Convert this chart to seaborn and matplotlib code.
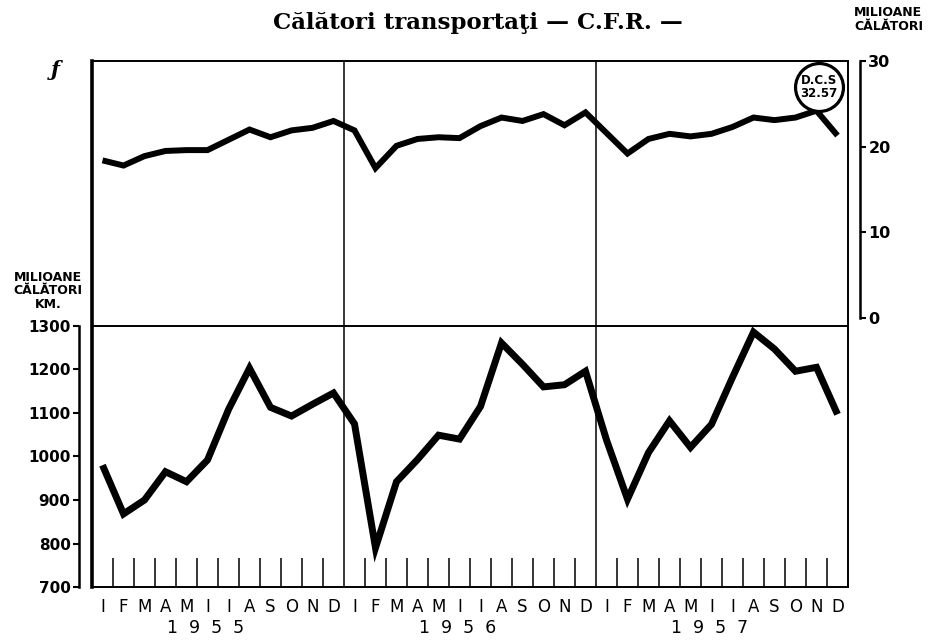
import numpy as np
import pandas as pd
import matplotlib
matplotlib.use('Agg')
import matplotlib.pyplot as plt
import seaborn as sns

# ---------------- data ----------------
years = ['1955', '1956', '1957']
month_letters = ['I', 'F', 'M', 'A', 'M', 'I', 'I', 'A', 'S', 'O', 'N', 'D']

# milioane călători (top panel, right axis)
calatori_1955 = [18.4, 17.8, 18.9, 19.5, 19.6, 19.6, 20.8, 22.0, 21.1, 21.9, 22.2, 23.0]
calatori_1956 = [21.9, 17.5, 20.1, 20.9, 21.1, 21.0, 22.4, 23.4, 23.0, 23.8, 22.5, 24.0]
calatori_1957 = [21.6, 19.2, 20.9, 21.5, 21.2, 21.5, 22.3, 23.4, 23.1, 23.4, 24.2, 21.3]

# milioane călători km (bottom panel, left axis)
ckm_1955 = [980, 868, 900, 965, 942, 992, 1108, 1203, 1113, 1093, 1120, 1146]
ckm_1956 = [1075, 790, 942, 993, 1049, 1040, 1115, 1261, 1212, 1160, 1165, 1196]
ckm_1957 = [1038, 902, 1009, 1082, 1021, 1074, 1182, 1286, 1247, 1196, 1205, 1097]

right_ticks = [0, 10, 20, 30]
left_ticks = [700, 800, 900, 1000, 1100, 1200, 1300]

title = 'Călători transportaţi — C.F.R. —'
right_label = 'MILIOANE\nCĂLĂTORI'
left_label = 'MILIOANE\nCĂLĂTORI\nKM.'
dcs_label = 'D.C.S'
dcs_value = '32.57'
dcs_pos = (34.62, 27.0)   # position of the circled note (month index, top-axis units)

# ---------------- build table ----------------
calatori = calatori_1955 + calatori_1956 + calatori_1957
ckm = ckm_1955 + ckm_1956 + ckm_1957
df = pd.DataFrame({
    'x': np.arange(len(calatori)) + 0.5,
    'calatori': calatori,
    'ckm': ckm,
})

sns.set_style('white')
plt.rcParams['font.family'] = ['DejaVu Sans']
plt.rcParams['text.color'] = 'black'
plt.rcParams['axes.labelcolor'] = 'black'
plt.rcParams['xtick.color'] = 'black'
plt.rcParams['ytick.color'] = 'black'
plt.rcParams['axes.edgecolor'] = 'black'

W, H = 934, 640
fig = plt.figure(figsize=(W / 100, H / 100), dpi=100)

def fx(px):
    return px / W

def fy(py):
    return 1 - py / H

L, R, T, M, B = 92, 848, 61, 326, 587

# frame axes
axf = fig.add_axes([fx(L), fy(B), fx(R) - fx(L), fy(T) - fy(B)])
axf.set_xlim(0, 36)
axf.set_ylim(0, 1)
axf.set_xticks([])
axf.set_yticks([])
for s in axf.spines.values():
    s.set_visible(True)
    s.set_color('black')
    s.set_linewidth(1.4)
axf.spines['left'].set_linewidth(2.6)
axf.axhline((B - M) / (B - T), color='black', lw=1.4)
for d in (12, 24):
    axf.axvline(d, color='black', lw=1.1)

# top axes
axt = fig.add_axes([fx(L), fy(M), fx(R) - fx(L), fy(T) - fy(M)])
axt.patch.set_alpha(0)
sns.lineplot(data=df, x='x', y='calatori', ax=axt, color='black', lw=4.3,
             solid_joinstyle='miter', solid_capstyle='butt')
axt.set_xlim(0, 36)
axt.set_ylim(-0.93, 30.0)
for k in ('left', 'top', 'bottom'):
    axt.spines[k].set_visible(False)
axt.spines['right'].set_position(('outward', 8.6))
axt.spines['right'].set_bounds(0, 30)
axt.spines['right'].set_linewidth(1.8)
axt.yaxis.tick_right()
axt.set_yticks(right_ticks)
axt.set_yticklabels([str(v) for v in right_ticks], fontweight='bold', fontsize=11.5)
axt.tick_params(axis='y', direction='out', length=4.5, width=1.5, pad=1.5, right=True, left=False)
axt.set_xticks([])
axt.set_xlabel('')
axt.set_ylabel('')

# circled note
axt.plot([dcs_pos[0]], [dcs_pos[1]], 'o', ms=34.5, mfc='white', mec='black', mew=2.3, zorder=5,
         clip_on=False)
axt.text(dcs_pos[0], dcs_pos[1] + 0.75, dcs_label, ha='center', va='center', fontsize=8.5,
         fontweight='bold', zorder=6)
axt.text(dcs_pos[0], dcs_pos[1] - 0.85, dcs_value, ha='center', va='center', fontsize=8.5,
         fontweight='bold', zorder=6)

# bottom axes
axb = fig.add_axes([fx(L), fy(B), fx(R) - fx(L), fy(M) - fy(B)])
axb.patch.set_alpha(0)
sns.lineplot(data=df, x='x', y='ckm', ax=axb, color='black', lw=5,
             solid_joinstyle='miter', solid_capstyle='butt')
axb.set_xlim(0, 36)
axb.set_ylim(700, 1300)
for k in ('right', 'top', 'bottom'):
    axb.spines[k].set_visible(False)
axb.spines['left'].set_position(('outward', 9.4))
axb.spines['left'].set_bounds(700, 1300)
axb.spines['left'].set_linewidth(1.8)
axb.set_yticks(left_ticks)
axb.set_yticklabels([str(v) for v in left_ticks], fontweight='bold', fontsize=11)
axb.tick_params(axis='y', direction='out', length=4, width=1.5, pad=2, left=True)
axb.set_xticks(df['x'])
axb.set_xticklabels(month_letters * len(years), fontsize=12)
axb.tick_params(axis='x', length=0, pad=8)
axb.set_xlabel('')
axb.set_ylabel('')

# month boundary ticks
bounds = [i for i in range(1, 36) if i % 12 != 0]
axb.vlines(bounds, 700, 767, color='black', lw=1.1)

# year labels
for k, y in enumerate(years):
    axb.text(12 * k + 5.4, -0.158, '  '.join(y), transform=axb.get_xaxis_transform(),
             ha='center', va='center', fontsize=12.5)

# texts
fig.text(fx(478), fy(23), title, ha='center', va='center', fontsize=16.5,
         fontweight='bold', family='DejaVu Serif')
fig.text(fx(854), fy(6), right_label, ha='left', va='top', fontsize=9,
         fontweight='bold', linespacing=1.05)
fig.text(fx(48), fy(311), left_label, ha='center', va='bottom', fontsize=9,
         fontweight='bold', linespacing=1.05)
fig.text(fx(55), fy(70), 'ƒ', ha='center', va='center', fontsize=15, family='DejaVu Serif',
         style='italic', fontweight='bold')

fig.savefig('out.png', dpi=100)
